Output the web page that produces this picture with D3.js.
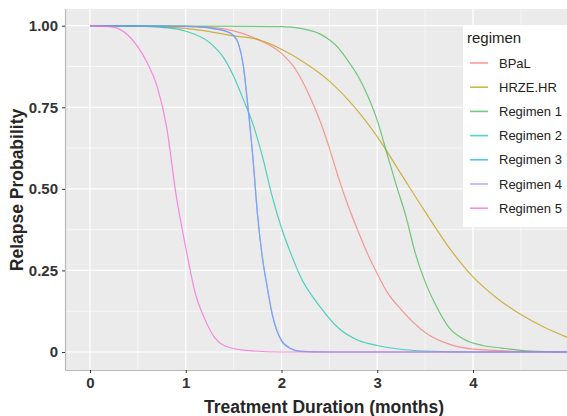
<!DOCTYPE html>
<html>
<head>
<meta charset="utf-8">
<script src="https://cdn.jsdelivr.net/npm/d3@7"></script>
<style>
  body { margin: 0; background: #fff; }
  svg { display: block; font-family: "Liberation Sans", Arial, sans-serif; }
</style>
</head>
<body>
<div id="chart"></div>
<script>
// Series: [months, relapse probability]
const regimens = ["BPaL", "HRZE.HR", "Regimen 1", "Regimen 2", "Regimen 3", "Regimen 4", "Regimen 5"];
const colors = ["#F8766D", "#C49A00", "#3DB84E", "#12C4AC", "#00B6EB", "#A58AFF", "#FB61D7"];

const bpal = [[0, 1], [1.0, 0.998], [1.3, 0.994], [1.5, 0.984], [1.75, 0.958], [2.0, 0.915], [2.15, 0.865],
  [2.3, 0.78], [2.4, 0.71], [2.5, 0.625], [2.6, 0.53], [2.7, 0.445], [2.8, 0.37], [2.9, 0.30], [3.0, 0.24],
  [3.1, 0.185], [3.25, 0.13], [3.5, 0.06], [3.75, 0.024], [4.0, 0.009], [4.5, 0.002], [5.0, 0]];
const hrze = [[0, 1], [0.5, 0.999], [1.0, 0.992], [1.25, 0.982], [1.5, 0.969], [1.75, 0.958], [2.0, 0.928],
  [2.25, 0.885], [2.5, 0.83], [2.75, 0.755], [3.0, 0.66], [3.25, 0.545], [3.5, 0.43], [3.75, 0.32],
  [4.0, 0.23], [4.25, 0.165], [4.5, 0.115], [4.75, 0.075], [5.0, 0.043]];
const regimen1 = [[0, 1], [1.0, 0.999], [2.0, 0.997], [2.2, 0.992], [2.4, 0.975], [2.5, 0.957], [2.6, 0.93],
  [2.7, 0.89], [2.8, 0.845], [2.9, 0.785], [3.0, 0.71], [3.1, 0.61], [3.2, 0.51], [3.3, 0.415], [3.4, 0.30],
  [3.5, 0.215], [3.6, 0.15], [3.75, 0.075], [3.9, 0.04], [4.1, 0.02], [4.3, 0.012], [4.6, 0.003], [5.0, 0]];
const regimen2 = [[0, 1], [0.5, 0.999], [0.75, 0.995], [1.0, 0.983], [1.25, 0.948], [1.4, 0.90], [1.5, 0.845],
  [1.6, 0.775], [1.7, 0.70], [1.8, 0.60], [1.9, 0.48], [2.0, 0.38], [2.1, 0.30], [2.2, 0.23], [2.4, 0.14],
  [2.6, 0.072], [2.8, 0.036], [3.0, 0.02], [3.2, 0.01], [3.5, 0.003], [4.0, 0], [5.0, 0]];
const regimen3 = [[0, 1], [1.0, 0.998], [1.2, 0.995], [1.3, 0.99], [1.4, 0.985], [1.5, 0.97], [1.55, 0.945],
  [1.6, 0.88], [1.65, 0.75], [1.7, 0.60], [1.75, 0.42], [1.8, 0.29], [1.85, 0.20], [1.9, 0.12], [2.0, 0.035],
  [2.1, 0.01], [2.2, 0.002], [2.5, 0], [5.0, 0]];
const regimen4 = [[0, 1], [1.0, 0.998], [1.2, 0.995], [1.3, 0.99], [1.4, 0.985], [1.5, 0.97], [1.55, 0.945],
  [1.6, 0.88], [1.65, 0.75], [1.7, 0.60], [1.75, 0.42], [1.8, 0.29], [1.85, 0.20], [1.9, 0.12], [2.0, 0.035],
  [2.1, 0.01], [2.2, 0.002], [2.5, 0], [5.0, 0]];
const regimen5 = [[0, 1], [0.25, 0.995], [0.4, 0.97], [0.5, 0.935], [0.6, 0.885], [0.7, 0.815], [0.8, 0.69],
  [0.9, 0.48], [1.0, 0.32], [1.1, 0.18], [1.2, 0.10], [1.3, 0.045], [1.4, 0.02], [1.6, 0.006], [2.0, 0], [5.0, 0]];

const series = [bpal, hrze, regimen1, regimen2, regimen3, regimen4, regimen5];
const xTicks = [0, 1, 2, 3, 4];
const yTicks = [0, 0.25, 0.5, 0.75, 1];
const yTickLabels = ["0", "0.25", "0.50", "0.75", "1.00"];

const width = 567, height = 416;
const panel = { left: 65, top: 9, right: 567, bottom: 370 };

const svg = d3.select("#chart").append("svg")
  .attr("width", width)
  .attr("height", height);

const x = d3.scaleLinear().domain([0, 4]).range([90, 473]);
const y = d3.scaleLinear().domain([0, 1]).range([352, 25.7]);

// Panel background
svg.append("rect")
  .attr("x", panel.left).attr("y", panel.top)
  .attr("width", panel.right - panel.left).attr("height", panel.bottom - panel.top)
  .attr("fill", "#EBEBEB");

// Minor grid
const grid = svg.append("g");
grid.selectAll(".xminor").data(d3.range(-0.5, 5, 1).filter(d => x(d) > panel.left && x(d) < panel.right))
  .enter().append("line")
  .attr("x1", d => x(d)).attr("x2", d => x(d))
  .attr("y1", panel.top).attr("y2", panel.bottom)
  .attr("stroke", "#fff").attr("stroke-width", 0.6);
grid.selectAll(".yminor").data([0.125, 0.375, 0.625, 0.875])
  .enter().append("line")
  .attr("x1", panel.left).attr("x2", panel.right)
  .attr("y1", d => y(d)).attr("y2", d => y(d))
  .attr("stroke", "#fff").attr("stroke-width", 0.6);
// Major grid
grid.selectAll(".xmajor").data(xTicks)
  .enter().append("line")
  .attr("x1", d => x(d)).attr("x2", d => x(d))
  .attr("y1", panel.top).attr("y2", panel.bottom)
  .attr("stroke", "#fff").attr("stroke-width", 1.2);
grid.selectAll(".ymajor").data(yTicks)
  .enter().append("line")
  .attr("x1", panel.left).attr("x2", panel.right)
  .attr("y1", d => y(d)).attr("y2", d => y(d))
  .attr("stroke", "#fff").attr("stroke-width", 1.2);

// Curves
svg.append("clipPath").attr("id", "clip")
  .append("rect")
  .attr("x", panel.left).attr("y", panel.top)
  .attr("width", panel.right - panel.left).attr("height", panel.bottom - panel.top);

const line = d3.line()
  .x(d => x(d[0]))
  .y(d => y(d[1]))
  .curve(d3.curveMonotoneX);

svg.append("g").attr("clip-path", "url(#clip)")
  .selectAll("path").data(series)
  .enter().append("path")
  .attr("d", line)
  .attr("fill", "none")
  .attr("stroke", (d, i) => colors[i])
  .attr("stroke-opacity", 0.72)
  .attr("stroke-width", 1.2);

// Axes
const xAxis = svg.append("g")
  .attr("transform", `translate(0,${panel.bottom})`)
  .call(d3.axisBottom(x).tickValues(xTicks).tickFormat(d3.format("d")).tickSize(3).tickPadding(4));
const yAxis = svg.append("g")
  .attr("transform", `translate(${panel.left},0)`)
  .call(d3.axisLeft(y).tickValues(yTicks).tickFormat((d, i) => yTickLabels[i]).tickSize(3).tickPadding(4));

[xAxis, yAxis].forEach(a => {
  a.select(".domain").attr("stroke", "#b8b8b8").attr("stroke-width", 1.2);
  a.selectAll(".tick line").attr("stroke", "#333");
  a.selectAll(".tick text")
    .attr("fill", "#333")
    .attr("font-size", "15px")
    .attr("font-weight", "bold")
    .attr("font-family", "'Liberation Sans', Arial, sans-serif");
});
xAxis.select(".domain").attr("d", `M${panel.left},0.5H${panel.right}`);
yAxis.select(".domain").attr("d", `M0.5,${panel.top}V${panel.bottom}`);

// Axis titles
svg.append("text")
  .attr("x", 324).attr("y", 413)
  .attr("text-anchor", "middle")
  .attr("font-size", "17.5px")
  .attr("font-weight", "bold")
  .attr("fill", "#262626")
  .text("Treatment Duration (months)");

svg.append("text")
  .attr("transform", "translate(23,190) rotate(-90)")
  .attr("text-anchor", "middle")
  .attr("font-size", "17.5px")
  .attr("font-weight", "bold")
  .attr("fill", "#262626")
  .text("Relapse Probability");

// Legend
const legend = svg.append("g").attr("transform", "translate(463,25)");
legend.append("rect")
  .attr("width", 120).attr("height", 202)
  .attr("fill", "#fff");
legend.append("text")
  .attr("x", 4).attr("y", 18)
  .attr("font-size", "15px")
  .attr("fill", "#222")
  .text("regimen");

const keys = legend.selectAll(".key").data(regimens)
  .enter().append("g")
  .attr("transform", (d, i) => `translate(0,${38 + i * 24.2})`);
keys.append("line")
  .attr("x1", 7).attr("x2", 25)
  .attr("stroke", (d, i) => colors[i])
  .attr("stroke-opacity", 0.72)
  .attr("stroke-width", 1.6);
keys.append("text")
  .attr("x", 36).attr("y", 4.5)
  .attr("font-size", "13px")
  .attr("fill", "#222")
  .text(d => d);
</script>
</body>
</html>
